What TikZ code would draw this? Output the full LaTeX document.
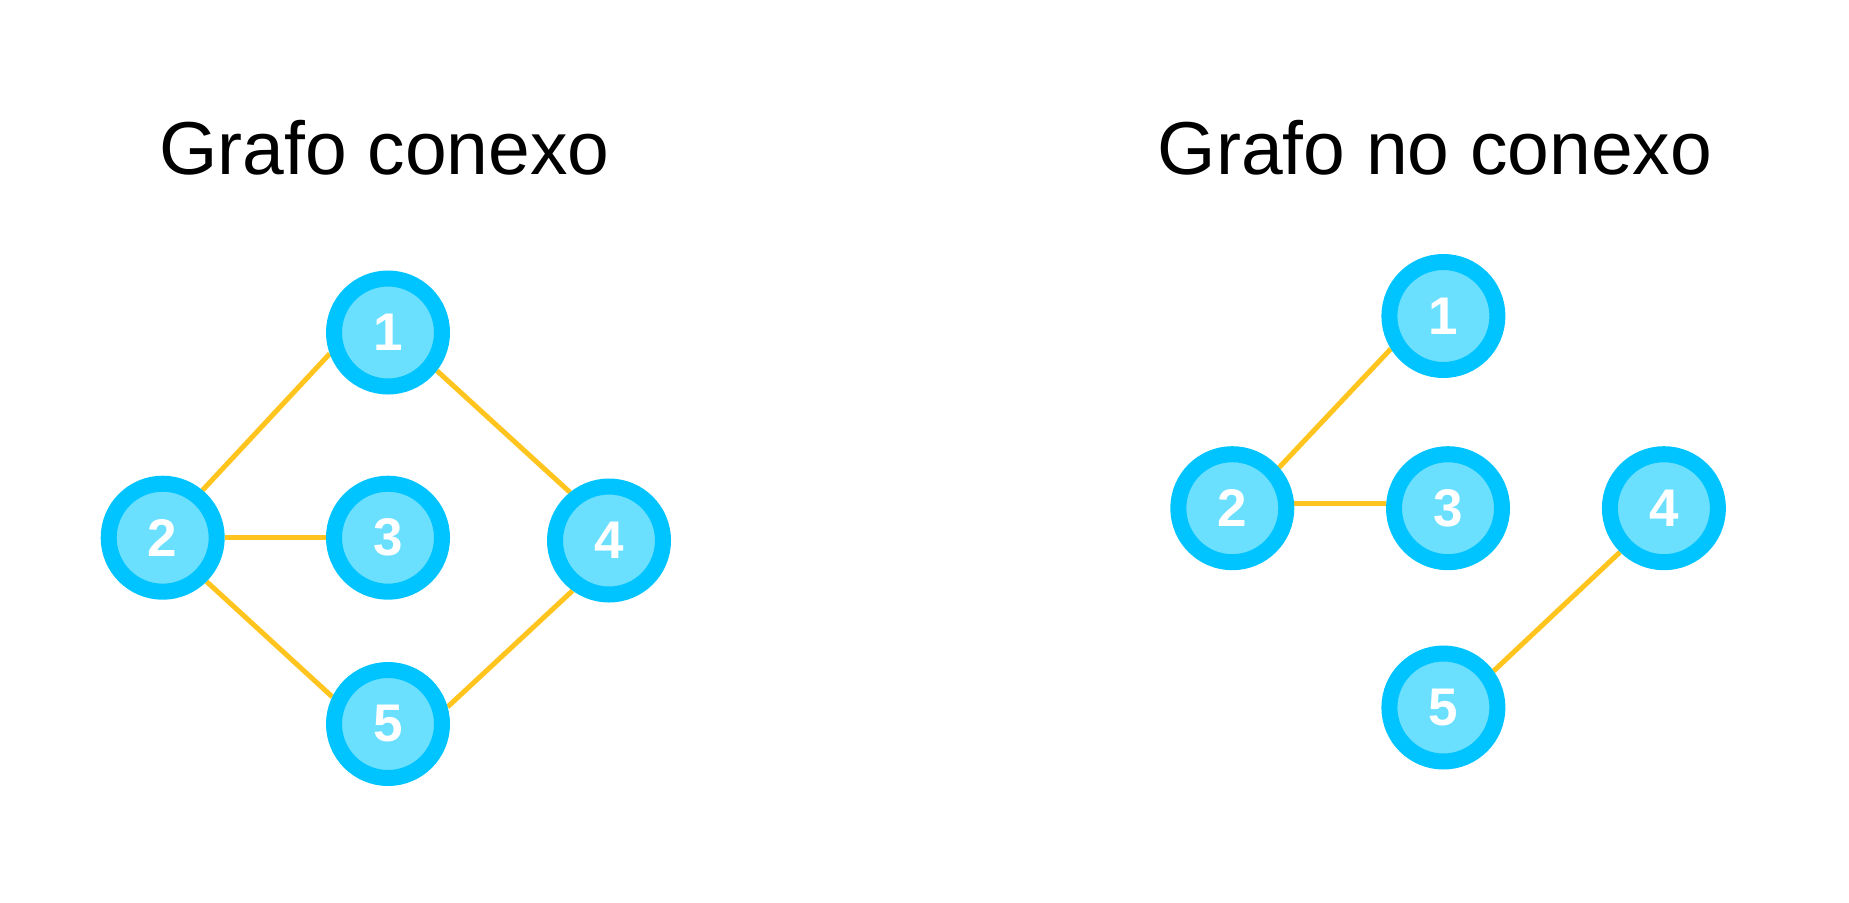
\documentclass[tikz,border=0pt]{standalone}
\usepackage{fontspec}
\setmainfont{Liberation Sans}
\usetikzlibrary{backgrounds}

\definecolor{ringblue}{RGB}{0,196,255}
\definecolor{fillblue}{RGB}{106,223,254}
\definecolor{edgeyellow}{RGB}{255,197,30}

\tikzset{every picture/.style={line width=0.75pt}}
\tikzset{
  vertex/.style={circle, draw=ringblue, fill=fillblue, line width=16pt, minimum size=108pt, inner sep=0pt, text=white, font=\fontsize{53}{60}\selectfont\bfseries},
  edge/.style={draw=edgeyellow, line width=5pt},
  title/.style={anchor=base, inner sep=0pt, font=\fontsize{75}{90}\selectfont}
}

\begin{document}
\begin{tikzpicture}[x=1pt,y=1pt,yscale=-1,xscale=1]
		\path[use as bounding box] (0,0) rectangle (1849,902);

		% Text Node
		\node [title] (tconexo) at (384.5,174) {Grafo conexo};
		% Text Node
		\node [title] (tnoconexo) at (1435,174) {Grafo no conexo};

		%Shape: Circle (connected graph)
		\node [vertex] (a1) at (388,332.5) {1};
		\node [vertex] (a2) at (162.7,537.7) {2};
		\node [vertex] (a3) at (388,537.7) {3};
		\node [vertex] (a4) at (609,540.5) {4};
		\node [vertex] (a5) at (388,724) {5};

		%Shape: Circle (disconnected graph)
		\node [vertex] (b1) at (1443.4,316) {1};
		\node [vertex] (b2) at (1232.3,508.2) {2};
		\node [vertex] (b3) at (1448,508.2) {3};
		\node [vertex] (b4) at (1663.9,508.2) {4};
		\node [vertex] (b5) at (1443.4,707.5) {5};

		\begin{scope}[on background layer]
		%Straight Lines
		\draw [edge] (a2.50) -- (a1.200) ;
		\draw [edge] (a2.east) -- (a3.west) ;
		\draw [edge] (a2.315) -- (a5.154) ;
		\draw [edge] (a1.322) -- (a4.129) ;
		\draw [edge] (a4.234) -- (a5.16) ;
		%Straight Lines
		\draw [edge] (b2.41) -- (b1.212) ;
		\draw [edge] (b2.4) -- (b3.176) ;
		\draw [edge] (b4.225) -- (b5.36) ;
		\end{scope}

\end{tikzpicture}
\end{document}
